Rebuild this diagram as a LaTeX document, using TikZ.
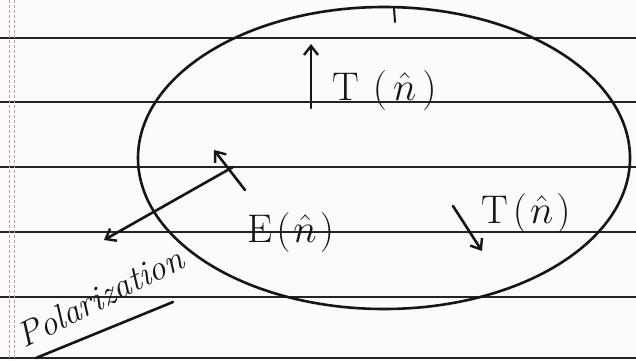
\RequirePackage{fix-cm}
\documentclass[tikz,border=0pt]{standalone}
\usetikzlibrary{arrows.meta,shapes.geometric}
\definecolor{ink}{RGB}{20,20,28}
\definecolor{rule}{RGB}{35,35,40}
\definecolor{margin}{RGB}{200,150,150}
\tikzset{
  ruleline/.style={draw=rule, line width=2pt},
  marginline/.style={draw=margin, line width=1pt, dash pattern=on 3pt off 2pt},
  inkline/.style={draw=ink, line width=2.6pt, line cap=round},
  vec/.style={inkline, -{Straight Barb[length=9pt,width=14pt,line width=2.4pt]}},
  lbl/.style={text=ink, inner sep=0pt, font=\fontsize{40}{46}\selectfont},
}
\begin{document}
\begin{tikzpicture}[x=1pt,y=-1pt]
\useasboundingbox (0,0) rectangle (636,360);
\fill[white!97!gray] (0,0) rectangle (636,360);
% ruled lines
\foreach \yy in {38,102,167,232,297,358}{
  \draw[ruleline] (0,\yy) -- (636,\yy);
}
\draw[marginline] (9,0) -- (9,360);
\draw[marginline] (14,0) -- (14,360);
% ellipse
\node[draw=ink, line width=2.6pt, ellipse, minimum width=492pt, minimum height=302pt, inner sep=0pt] (oval) at (384,158) {};
\coordinate (tick1) at (394,8);
\coordinate (tick2) at (395,22);
\draw[inkline, line width=2pt] (tick1) -- (tick2);
% upper T
\coordinate (ua1) at (311,108);
\coordinate (ua2) at (311,44);
\draw[vec] (ua1) -- (ua2);
\node[lbl, anchor=base west] (t1) at (332,100) {$\mathrm{T}\hspace{14pt}(\hspace{6pt}\hat{n}\hspace{6pt})$};
% E
\node[lbl, anchor=base west] (e1) at (247,242) {$\mathrm{E}\hspace{4pt}(\hspace{3pt}\hat{n}\hspace{3pt})$};
% lower T
\coordinate (la1) at (453,206);
\coordinate (la2) at (482,251);
\draw[vec] (la1) -- (la2);
\node[lbl, anchor=base west] (t2) at (481,223) {$\mathrm{T}\hspace{5pt}(\hspace{3pt}\hat{n}\hspace{3pt})$};
% polarization
\coordinate (p1) at (233,167);
\coordinate (p2) at (104,240);
\draw[vec] (p1) -- (p2);
\coordinate (q1) at (245,190);
\coordinate (q2) at (214,150);
\draw[vec] (q1) -- (q2);
\node[text=ink, rotate=27, font=\fontsize{35}{40}\selectfont\itshape, inner sep=0pt] (pol) at (100,297) {Polarization};
\coordinate (u1) at (36,358);
\coordinate (u2) at (173,302);
\draw[inkline] (u1) -- (u2);
\end{tikzpicture}
\end{document}
